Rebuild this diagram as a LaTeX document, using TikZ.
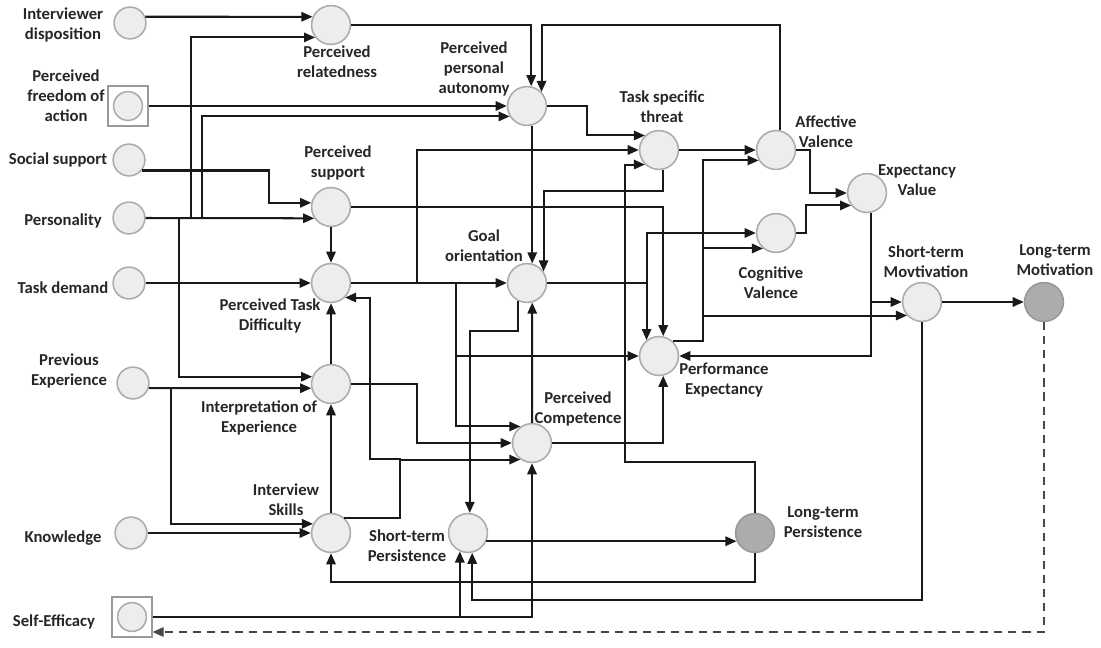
\documentclass[tikz,border=0pt]{standalone}
\usepackage{fontspec}
\setmainfont{Carlito}
\usetikzlibrary{arrows.meta, calc}
\tikzset{
    bubble/.style={circle, draw=gray!65, line width=0.9pt, fill=gray!14,
        minimum size=22.1pt, inner sep=0pt},
    smallbubble/.style={bubble, minimum size=18.1pt},
    tinybubble/.style={bubble, minimum size=16.4pt},
    darkbubble/.style={bubble, draw=gray!80, fill=gray!65},
    sqframe/.style={rectangle, draw=gray!80, line width=0.8pt, fill=white,
        minimum size=22.6pt, inner sep=0pt},
    link/.style={draw=black!90, line width=1.15pt, -{Triangle[length=6.3pt, width=5.3pt]}},
    dashlink/.style={link, draw=black!72, dash pattern=on 4.6pt off 3.4pt},
    lbl/.style={font=\fontsize{9.5}{11.4}\selectfont\bfseries, align=center,
        inner sep=0pt, text=black!85}
}

\begin{document}
\begin{tikzpicture}[x=0.02cm, y=-0.02cm]
    \useasboundingbox (0,0) rectangle (1101,648);

    % Entrées
    \node[smallbubble] (ID) at (130,23) {};
    \node[sqframe] (PFAbox) at (128,106) {};
    \node[tinybubble] (PFA) at (128,106) {};
    \node[smallbubble] (SS) at (129,160) {};
    \node[smallbubble] (PERS) at (129,218) {};
    \node[smallbubble] (TD) at (129,283) {};
    \node[smallbubble] (PEX) at (133,383) {};
    \node[smallbubble] (KN) at (131,533) {};
    \node[sqframe] (SEbox) at (132,617) {};
    \node[tinybubble] (SE) at (132,617) {};

    % Variables
    \node[bubble] (PR) at (331,25) {};
    \node[bubble] (PS) at (331,207) {};
    \node[bubble] (PTD) at (331,283) {};
    \node[bubble] (IE) at (331,384) {};
    \node[bubble] (IS) at (331,533) {};
    \node[bubble] (PPA) at (527,106) {};
    \node[bubble] (TST) at (659,150) {};
    \node[bubble] (GO) at (527,283) {};
    \node[bubble] (PC) at (532,443) {};
    \node[bubble] (STP) at (468,533) {};
    \node[bubble] (PE) at (659,356) {};
    \node[bubble] (AV) at (776,150) {};
    \node[bubble] (CV) at (776,233) {};
    \node[bubble] (EV) at (867,193) {};
    \node[bubble] (STM) at (922,302) {};
    \node[darkbubble] (LTM) at (1044,302) {};
    \node[darkbubble] (LTP) at (755,533) {};

    % Textes
    \node[lbl] (tID) at (63,25) {Interviewer\\disposition};
    \node[lbl] (tPFA) at (66,96) {Perceived\\freedom of\\action};
    \node[lbl] (tSS) at (58,160) {Social support};
    \node[lbl] (tPERS) at (63,221) {Personality};
    \node[lbl] (tTD) at (63,288) {Task demand};
    \node[lbl] (tPEX) at (69,371) {Previous\\Experience};
    \node[lbl] (tKN) at (63,538) {Knowledge};
    \node[lbl] (tSE) at (54,622) {Self-Efficacy};
    \node[lbl] (tPR) at (337,62) {Perceived\\relatedness};
    \node[lbl] (tPS) at (338,163) {Perceived\\support};
    \node[lbl] (tPPA) at (474,69) {Perceived\\personal\\autonomy};
    \node[lbl] (tTST) at (662,107) {Task specific\\threat};
    \node[lbl] (tGO) at (484,246) {Goal\\orientation};
    \node[lbl] (tAV) at (826,132) {Affective\\Valence};
    \node[lbl] (tEV) at (917,180) {Expectancy\\Value};
    \node[lbl] (tCV) at (771,283) {Cognitive\\Valence};
    \node[lbl] (tSTM) at (926,262) {Short-term\\Movtivation};
    \node[lbl] (tLTM) at (1055,260) {Long-term\\Motivation};
    \node[lbl] (tPTD) at (270,316) {Perceived Task\\Difficulty};
    \node[lbl] (tPE) at (724,380) {Performance\\Expectancy};
    \node[lbl] (tPC) at (578,409) {Perceived\\Competence};
    \node[lbl] (tIE) at (259,418) {Interpretation of\\Experience};
    \node[lbl] (tIS) at (286,500) {Interview\\Skills};
    \node[lbl] (tSTP) at (407,546) {Short-term\\Persistence};
    \node[lbl] (tLTP) at (823,522) {Long-term\\Persistence};

    % Liens de gauche
    \draw[link] (ID.22) -- (PR.156);
    \draw[link] (PFAbox.east) -- (PPA.west);
    \draw[link] (SS.-39) -- ++(127,0) |- (PS.168);
    \draw[link] (PERS.east) -- (PS.214);
    \draw[link] (PERS.east) -- ++(45,0) |- (PR.218);
    \draw[link] (PERS.east) -- ++(56,0) |- (PPA.211);
    \draw[link] (PERS.east) -- ++(33,0) |- (IE.159);
    \draw[link] (TD.east) -- (PTD.west);
    \draw[link] (PEX.-18) -- (IE.192);
    \draw[link] (PEX.-18) -- ++(22,0) |- (IS.153);
    \draw[link] (KN.east) -- (IS.west);
    \draw[link] (SEbox.east) -| (PC.south);
    \draw[link] (SEbox.east) -| (STP.246);

    % Colonne centrale
    \draw[link] (PS.south) -- (PTD.north);
    \draw[link] (IE.north) -- (PTD.south);
    \draw[link] (IS.north) -- (IE.south);
    \draw[link] (PR.east) -| (PPA.78);
    \draw[link] (PTD.east) -- (GO.west);
    \draw[link] (PTD.east) -- ++(66,0) |- (TST.west);
    \draw[link] (PTD.east) -- ++(105,0) |- (PE.west);
    \draw[link] (PTD.east) -- ++(105,0) |- (PC.125);
    \draw[link] (IE.east) -- ++(66,0) |- (PC.west);
    \draw[link] (IS.50) -- ++(56,0) |- (PC.235);
    \draw[link] (IS.50) -- ++(56,0) -- ++(0,-59) -- ++(-30,0) |- (PTD.-46);
    \draw[link] (PPA.285) -- (GO.75);
    \draw[link] (PPA.east) -- ++(40,0) |- (TST.134);
    \draw[link] (GO.243) -- ++(0,30) -| (STP.85);
    \draw[link] (PC.north) -- (GO.285);
    \draw[link] (STP.-24) -- (LTP.204);

    % Partie droite
    \draw[link] (TST.282) -- ++(0,21) -| (GO.35);
    \draw[link] (TST.east) -- (AV.west);
    \draw[link] (AV.80) -- (AV.80 |- PR.east) -| (PPA.44);
    \draw[link] (PS.east) -| (PE.78);
    \draw[link] (GO.east) -| (PE.128);
    \draw[link] (GO.east) -- (GO.east -| PE.128) |- (CV.west);
    \draw[link] (PC.east) -| (PE.282);
    \draw[link] (PE.46) -- ++(30,0) |- (AV.211);
    \draw[link] (PE.46) -- ++(30,0) |- (CV.230);
    \draw[link] (PE.46) -- ++(30,0) |- (STM.222);
    \draw[link] (AV.east) -- ++(14,0) |- (EV.west);
    \draw[link] (CV.east) -- ++(10,0) |- (EV.218);
    \draw[link] (EV.280) |- (STM.west);
    \draw[link] (EV.280) |- (PE.east);
    \draw[link] (STM.east) -- (LTM.west);

    % Retours
    \draw[link] (LTP.north) -- ++(0,-51) -- ++(-130,0) |- (TST.226);
    \draw[link] (LTP.south) -- ++(0,29) -| (IS.south);
    \draw[link] (STM.south) -- ++(0,278) -| (STP.282);
    \draw[dashlink] (LTM.south) |- ($(SEbox.east)+(0,15)$);

\end{tikzpicture}
\end{document}
